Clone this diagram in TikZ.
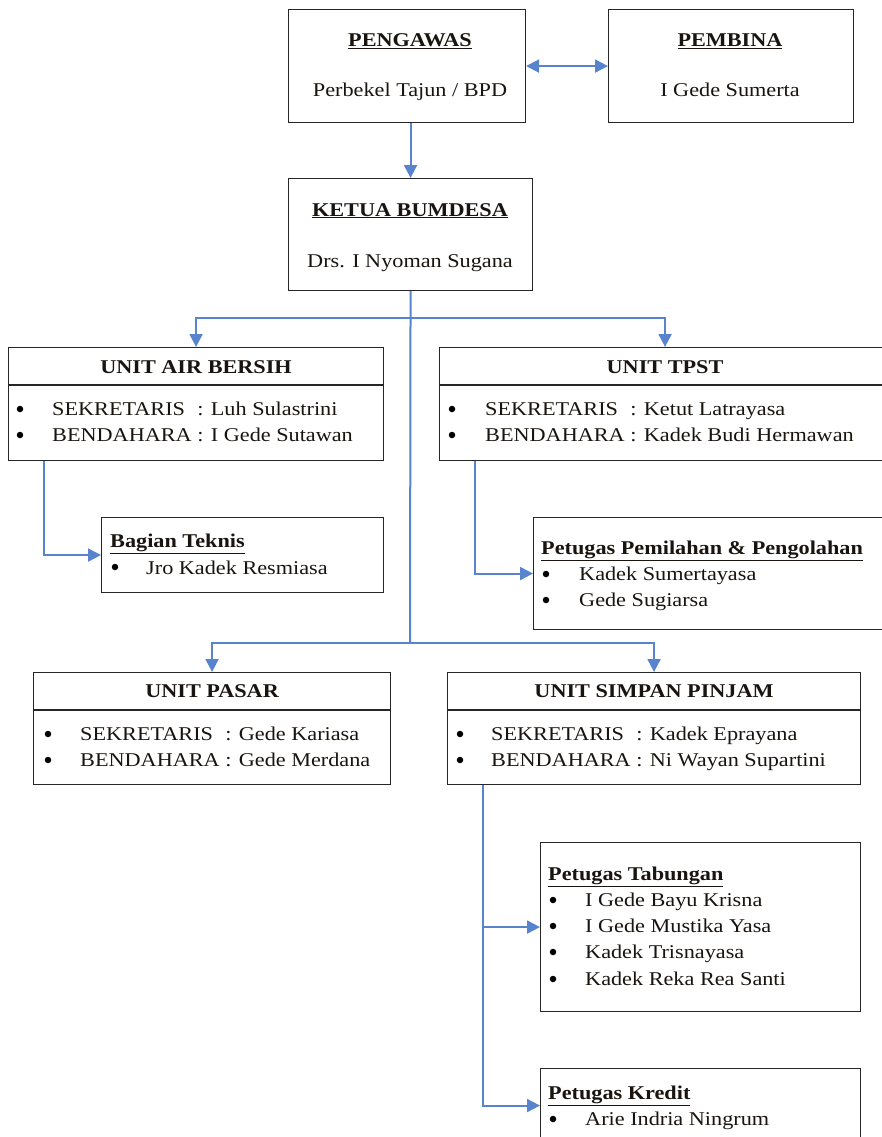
\documentclass[tikz,border=0pt]{standalone}
\usepackage{fontspec}
\setmainfont[FakeStretch=1.14]{Liberation Serif}
\usetikzlibrary{arrows.meta}
\definecolor{linkblue}{RGB}{88,132,206}
\definecolor{ink}{RGB}{25,20,15}
% label column of width "BENDAHARA " followed by ": name"
\newcommand\rolerow[2]{\setbox0\hbox{BENDAHARA\ }\makebox[\wd0][l]{#1}: #2}
\begin{document}
\begin{tikzpicture}[x=1pt,y=-1pt,
  box/.style={draw=black!85, line width=1.1pt, inner sep=0pt, anchor=north west},
  txt/.style={inner sep=0pt, text=ink, font=\fontsize{19.5}{23}\selectfont},
  head/.style={txt, anchor=base, font=\fontsize{19.5}{23}\selectfont\bfseries},
  ctr/.style={txt, anchor=base},
  lft/.style={txt, anchor=base west},
  ttl/.style={txt, anchor=base west, font=\fontsize{19.5}{23}\selectfont\bfseries},
  dot/.style={circle, fill=black, inner sep=0pt, minimum size=6.5pt},
  conn/.style={draw=linkblue, line width=2pt},
  arr/.style={conn, -{Triangle[length=13pt,width=13pt]}},
  darr/.style={conn, {Triangle[length=13pt,width=13pt]}-{Triangle[length=13pt,width=13pt]}}
]
\useasboundingbox (0,0) rectangle (882,1137);
\clip (0,0) rectangle (882,1137);
\fill[white] (0,0) rectangle (882,1137);

% ---- boxes ----
\node[box, minimum width=237pt, minimum height=113pt] (pengawas) at (288,9) {};
\node[box, minimum width=245pt, minimum height=113pt] (pembina) at (608,9) {};
\node[box, minimum width=244pt, minimum height=112pt] (ketua) at (288,178) {};
\node[box, minimum width=375pt, minimum height=113pt] (air) at (8,347) {};
\node[box, minimum width=451pt, minimum height=113pt] (tpst) at (439,347) {};
\node[box, minimum width=282pt, minimum height=75pt] (teknis) at (101,517) {};
\node[box, minimum width=360pt, minimum height=112pt] (pemil) at (533,517) {};
\node[box, minimum width=357pt, minimum height=112pt] (pasar) at (33,672) {};
\node[box, minimum width=413pt, minimum height=112pt] (simpan) at (447,672) {};
\node[box, minimum width=320pt, minimum height=169pt] (tabungan) at (540,842) {};
\node[box, minimum width=320pt, minimum height=74pt] (kredit) at (540,1068) {};

% header dividers
\foreach \b in {air,tpst,pasar,simpan}
  \draw[black!85, line width=1.1pt] ([yshift=-38pt]\b.north west) -- ([yshift=-38pt]\b.north east);

% ---- texts ----
\node[head] (tpengawas) at (410,47) {\underline{PENGAWAS}};
\node[ctr] (tperbekel) at (410,97) {Perbekel Tajun / BPD};
\node[head] (tpembina) at (730,47) {\underline{PEMBINA}};
\node[ctr] (tsumerta) at (730,97) {I Gede Sumerta};
\node[head] (tketua) at (410,216) {\underline{KETUA BUMDESA}};
\node[ctr] (tsugana) at (410,267) {Drs. I Nyoman Sugana};

% unit air bersih
\node[head] (hair) at (air.north |- 0,373) {UNIT AIR BERSIH};
\node[dot] (bair1) at (20,409) {};
\node[lft] (lair1) at (52,415) {\rolerow{SEKRETARIS}{Luh Sulastrini}};
\node[dot] (bair2) at (20,435) {};
\node[lft] (lair2) at (52,441) {\rolerow{BENDAHARA}{I Gede Sutawan}};

% unit tpst
\node[head] (htpst) at (tpst.north |- 0,373) {UNIT TPST};
\node[dot] (btpst1) at (452,409) {};
\node[lft] (ltpst1) at (485,415) {\rolerow{SEKRETARIS}{Ketut Latrayasa}};
\node[dot] (btpst2) at (452,435) {};
\node[lft] (ltpst2) at (485,441) {\rolerow{BENDAHARA}{Kadek Budi Hermawan}};

% bagian teknis
\node[ttl] (hteknis) at (110,547) {\underline{Bagian Teknis}};
\node[dot] (bteknis) at (115,567) {};
\node[lft] (lteknis) at (146,574) {Jro Kadek Resmiasa};

% petugas pemilahan
\node[ttl] (hpemil) at (541,554) {\underline{Petugas Pemilahan \& Pengolahan}};
\node[dot] (bpemil1) at (546,574) {};
\node[lft] (lpemil1) at (579,580) {Kadek Sumertayasa};
\node[dot] (bpemil2) at (546,600) {};
\node[lft] (lpemil2) at (579,606) {Gede Sugiarsa};

% unit pasar
\node[head] (hpasar) at (pasar.north |- 0,697) {UNIT PASAR};
\node[dot] (bpasar1) at (48,734) {};
\node[lft] (lpasar1) at (80,740) {\rolerow{SEKRETARIS}{Gede Kariasa}};
\node[dot] (bpasar2) at (48,760) {};
\node[lft] (lpasar2) at (80,766) {\rolerow{BENDAHARA}{Gede Merdana}};

% unit simpan pinjam
\node[head] (hsimpan) at (simpan.north |- 0,697) {UNIT SIMPAN PINJAM};
\node[dot] (bsimpan1) at (460,734) {};
\node[lft] (lsimpan1) at (491,740) {\rolerow{SEKRETARIS}{Kadek Eprayana}};
\node[dot] (bsimpan2) at (460,760) {};
\node[lft] (lsimpan2) at (491,766) {\rolerow{BENDAHARA}{Ni Wayan Supartini}};

% petugas tabungan
\node[ttl] (htab) at (548,880) {\underline{Petugas Tabungan}};
\node[dot] (btab1) at (553,900) {};
\node[lft] (ltab1) at (585,906) {I Gede Bayu Krisna};
\node[dot] (btab2) at (553,926) {};
\node[lft] (ltab2) at (585,932) {I Gede Mustika Yasa};
\node[dot] (btab3) at (553,952) {};
\node[lft] (ltab3) at (585,958) {Kadek Trisnayasa};
\node[dot] (btab4) at (553,979) {};
\node[lft] (ltab4) at (585,985) {Kadek Reka Rea Santi};

% petugas kredit
\node[ttl] (hkredit) at (548,1099) {\underline{Petugas Kredit}};
\node[dot] (bkredit) at (553,1119) {};
\node[lft] (lkredit) at (585,1125) {Arie Indria Ningrum};

% ---- connectors ----
\draw[darr] (pengawas.east) -- (pembina.west);
\draw[arr] (ketua.north |- pengawas.south) -- (ketua.north);
\coordinate (j1) at (410,318);
\coordinate (j2) at (410,643);
\draw[conn] (ketua.south) -- (j2);
\draw[arr] (j1) -| (air.north);
\draw[arr] (j1) -| (tpst.north);
\draw[arr] (j2) -| (pasar.north);
\draw[arr] (j2) -| (simpan.north);
\draw[arr] ([xshift=36pt]air.south west) |- (teknis.west);
\draw[arr] ([xshift=36pt]tpst.south west) |- (pemil.west);
\draw[arr] ([xshift=36pt]simpan.south west) |- (tabungan.west);
\draw[arr] ([xshift=36pt]simpan.south west) |- (kredit.west);
\end{tikzpicture}
\end{document}
